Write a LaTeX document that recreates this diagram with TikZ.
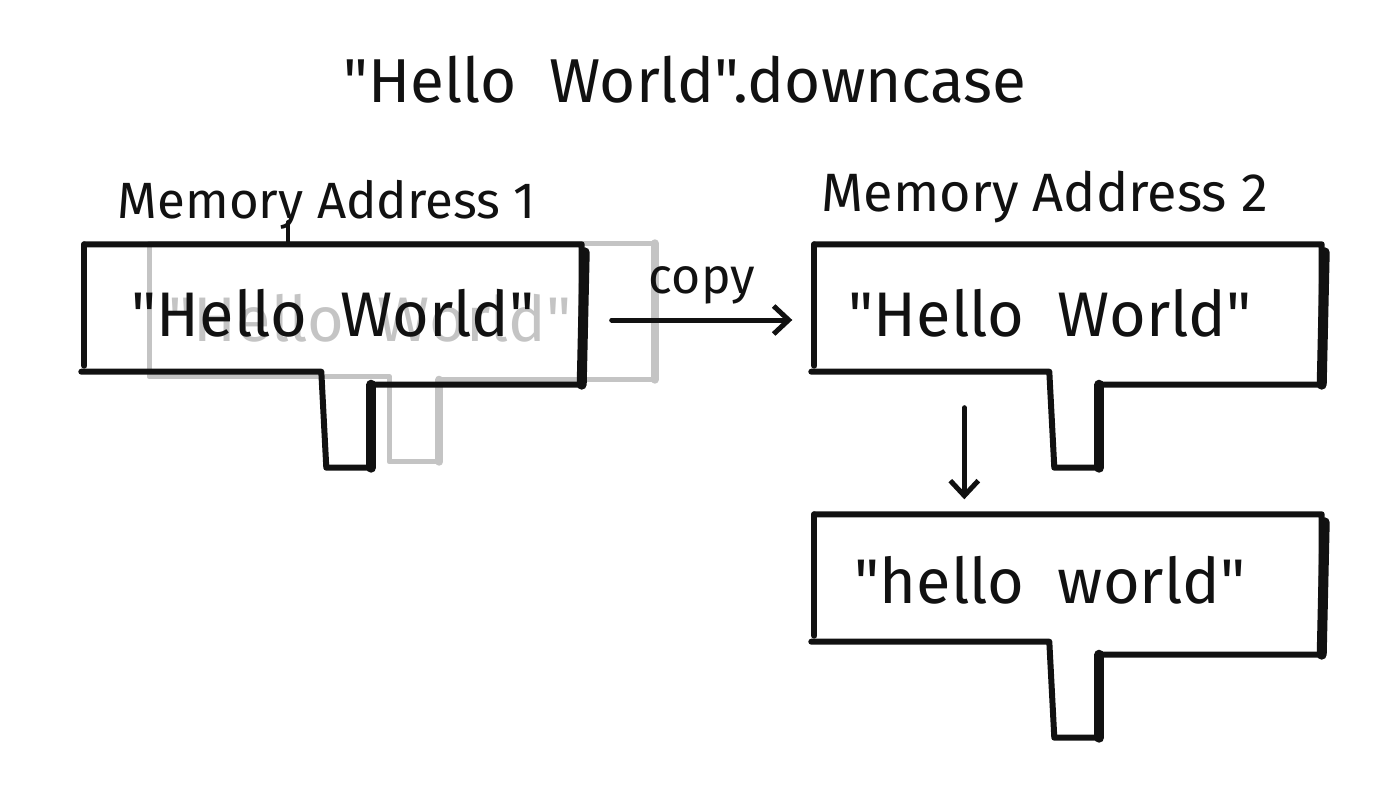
\documentclass[tikz,border=0pt]{standalone}
\usepackage{fontspec}
\setmainfont{Fira Sans}[Ligatures=TeXOff]
\usetikzlibrary{calc,arrows.meta}
\definecolor{ink}{HTML}{111111}
\definecolor{ghost}{HTML}{C4C4C4}
\tikzset{
  signbody/.style={minimum width=#1, minimum height=133pt, inner sep=0pt, anchor=center},
  signline/.style={draw=ink, line width=6pt, line join=round, line cap=round},
  signshade/.style={draw=ink, line width=10pt, line cap=round},
  ghostline/.style={draw=ghost, line width=5.5pt, line join=round, line cap=round},
  ghostshade/.style={draw=ghost, line width=8pt, line cap=round},
  boxtext/.style={font=\fontsize{63}{70}\selectfont, text=ink},
  labeltext/.style={font=\fontsize{54}{60}\selectfont, text=ink},
  arrowline/.style={draw=ink, line width=5pt, line cap=round, -{Straight Barb[length=15pt,width=28pt,line width=5pt]}}
}
\begin{document}
\begin{tikzpicture}[x=1pt,y=-1pt]
\useasboundingbox (0,0) rectangle (1400,800);
\fill[white] (0,0) rectangle (1400,800);

% title
\node[font=\fontsize{62}{68}\selectfont, text=ink] (title) at (685,80) {"Hello\ \ World".downcase};

% ghost copy of box 1
\node[signbody=505pt] (g1) at (402,310) {};
\node[boxtext, text=ghost] (g1t) at (370,318) {"Hello\ \ World"};
\path[ghostline] (g1.north west) -- (g1.north east) -- ($(g1.south east)+(0,3)$) -- ($(g1.south west)+(290,3)$) -- ($(g1.south west)+(290,85)$) -- ($(g1.south west)+(240,85)$) -- ($(g1.south west)+(240,0)$) -- (g1.south west) -- cycle;
\path[ghostshade] (g1.north east) -- ($(g1.south east)+(0,3)$);
\path[ghostshade] ($(g1.south west)+(290,3)$) -- ($(g1.south west)+(290,85)$);

% box 1
\node[signbody=497pt] (b1) at (333,311) {};
\node[boxtext] (b1t) at (333,313) {"Hello\ \ World"};
\path[signline] (b1.north west) -- (b1.north east) -- ($(b1.south east)+(0,7)$) -- ($(b1.south west)+(287,7)$) -- ($(b1.south west)+(287,90)$) -- ($(b1.south west)+(242,90)$) -- ($(b1.south west)+(237,-6)$) -- ($(b1.south west)+(-3,-6)$);
\path[signline] (b1.north west) -- ($(b1.south west)+(0,-12)$);
\path[signshade] ($(b1.north east)+(3,8)$) -- ($(b1.south east)+(0,7)$);
\path[signshade] ($(b1.south west)+(287,7)$) -- ($(b1.south west)+(287,90)$);

% label 1
\node[labeltext, font=\fontsize{51}{58}\selectfont] (l1) at (327,205) {Memory Address 1};
\coordinate (l1tail) at (288,222);
\path[signline, line width=4pt] (l1tail) -- (l1tail |- b1.north);

% copy arrow
\coordinate (c1) at ($(b1.east)+(30,9)$);
\node[signbody=507pt] (b2) at (1068,311) {};
\coordinate (c2) at ($(b2.west)+(-22,9)$);
\draw[arrowline] (c1) -- (c2);
\node[labeltext, font=\fontsize{50}{56}\selectfont, anchor=south] (copy) at ($(c1)!0.5!(c2)+(0,-12)$) {copy};

% box 2
\node[boxtext] (b2t) at (1050,313) {"Hello\ \ World"};
\path[signline] (b2.north west) -- (b2.north east) -- ($(b2.south east)+(0,7)$) -- ($(b2.south west)+(285,7)$) -- ($(b2.south west)+(285,90)$) -- ($(b2.south west)+(240,90)$) -- ($(b2.south west)+(235,-6)$) -- ($(b2.south west)+(-3,-6)$);
\path[signline] (b2.north west) -- ($(b2.south west)+(0,-12)$);
\path[signshade] ($(b2.north east)+(3,8)$) -- ($(b2.south east)+(0,7)$);
\path[signshade] ($(b2.south west)+(285,7)$) -- ($(b2.south west)+(285,90)$);

% label 2
\node[labeltext] (l2) at (1045,197) {Memory Address 2};

% box 3
\node[signbody=507pt] (b3) at (1068,581) {};
\node[boxtext] (b3t) at (1050,580) {"hello\ \ world"};
\path[signline] (b3.north west) -- (b3.north east) -- ($(b3.south east)+(0,7)$) -- ($(b3.south west)+(285,7)$) -- ($(b3.south west)+(285,90)$) -- ($(b3.south west)+(240,90)$) -- ($(b3.south west)+(235,-6)$) -- ($(b3.south west)+(-3,-6)$);
\path[signline] (b3.north west) -- ($(b3.south west)+(0,-12)$);
\path[signshade] ($(b3.north east)+(3,8)$) -- ($(b3.south east)+(0,7)$);
\path[signshade] ($(b3.south west)+(285,7)$) -- ($(b3.south west)+(285,90)$);

% down arrow
\coordinate (d1) at ($(b2.south west)+(150,30)$);
\coordinate (d2) at ($(b3.north west)+(150,-15)$);
\draw[arrowline] (d1) -- (d2);
\end{tikzpicture}
\end{document}
